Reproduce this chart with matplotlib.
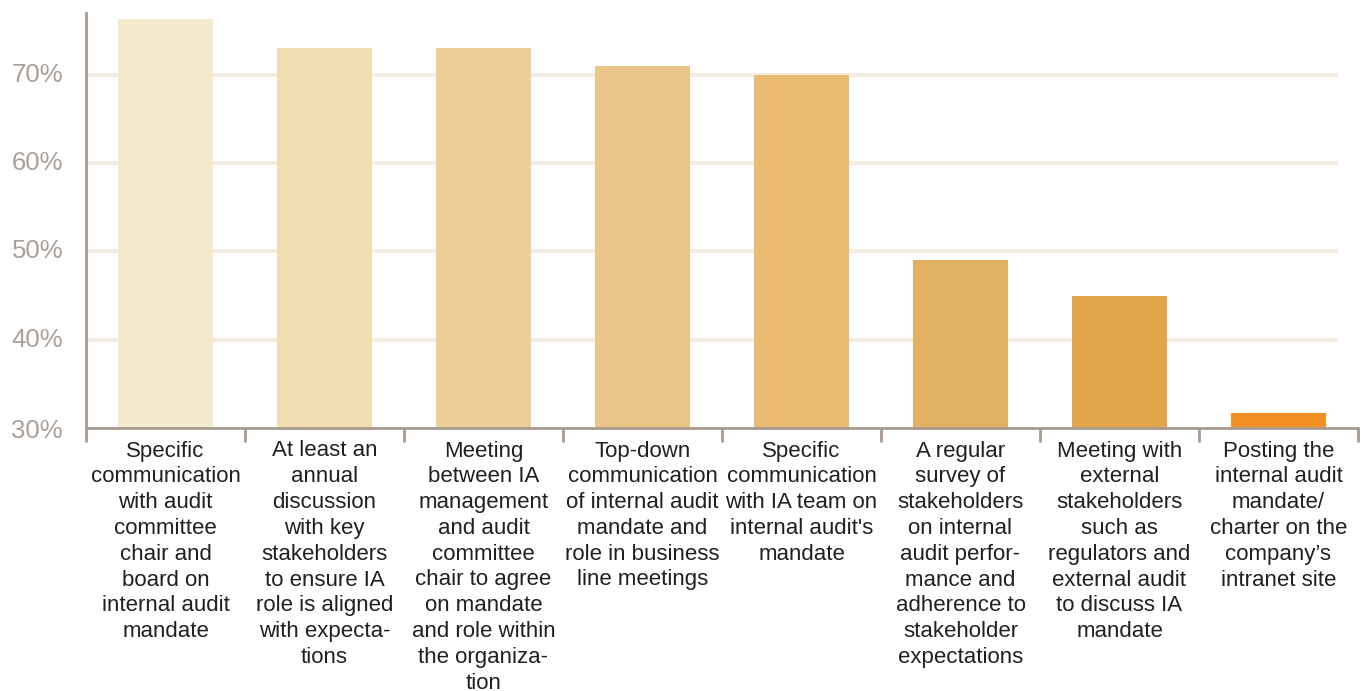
import matplotlib.pyplot as plt
import numpy as np

# data
labels = [
    "Specific\ncommunication\nwith audit\ncommittee\nchair and\nboard on\ninternal audit\nmandate",
    "At least an\nannual\ndiscussion\nwith key\nstakeholders\nto ensure IA\nrole is aligned\nwith expecta-\ntions",
    "Meeting\nbetween IA\nmanagement\nand audit\ncommittee\nchair to agree\non mandate\nand role within\nthe organiza-\ntion",
    "Top-down\ncommunication\nof internal audit\nmandate and\nrole in business\nline meetings",
    "Specific\ncommunication\nwith IA team on\ninternal audit's\nmandate",
    "A regular\nsurvey of\nstakeholders\non internal\naudit perfor-\nmance and\nadherence to\nstakeholder\nexpectations",
    "Meeting with\nexternal\nstakeholders\nsuch as\nregulators and\nexternal audit\nto discuss IA\nmandate",
    "Posting the\ninternal audit\nmandate/\ncharter on the\ncompany\u2019s\nintranet site",
]
values = [76.3, 73, 73, 71, 70, 49, 45, 31.7]
colors = ['#f4e9cb', '#efdeb0', '#eccf98', '#eac58a', '#e8ba72', '#e1b060', '#e2a54c', '#f39022']
yticks = [30, 40, 50, 60, 70]

axis_col = '#a89a8f'

fig = plt.figure(figsize=(13.66, 6.91), dpi=100)
ax = fig.add_axes([86/1366, (691-428)/691, (1358-86)/1366, (428-13)/691])

x = np.arange(len(values))
ax.bar(x, np.array(values) - 30, bottom=30, width=0.6, color=colors, zorder=2)

for yt in yticks[1:]:
    ax.axhline(yt, xmin=0, xmax=0.983, color='#f3ece3', lw=3, zorder=1)

ax.set_xlim(-0.5, len(values) - 0.5)
ax.set_ylim(30, 77)

ax.set_yticks(yticks)
ax.set_yticklabels([f'{v}%' for v in yticks], fontsize=18.5, color='#aaa09a', family='Liberation Sans')
ax.tick_params(axis='y', length=0, pad=16.5)
for lab in ax.get_yticklabels():
    lab.set_va('center_baseline' if lab.get_text() == '30%' else 'center')

ax.set_xticks(np.arange(len(values) + 1) - 0.5)
ax.set_xticklabels([])
ax.tick_params(axis='x', which='major', length=10, width=2, color=axis_col, direction='out')
ax.set_xticks(x, minor=True)
ax.set_xticklabels(labels, minor=True, fontsize=16, color='#231f20', family='Liberation Sans',
                   linespacing=1.3, va='top', ha='center')
ax.tick_params(axis='x', which='minor', length=0, pad=9)

for s in ['top', 'right']:
    ax.spines[s].set_visible(False)
for s in ['left', 'bottom']:
    ax.spines[s].set_color(axis_col)
    ax.spines[s].set_linewidth(2)

fig.savefig('out.png', dpi=100)
